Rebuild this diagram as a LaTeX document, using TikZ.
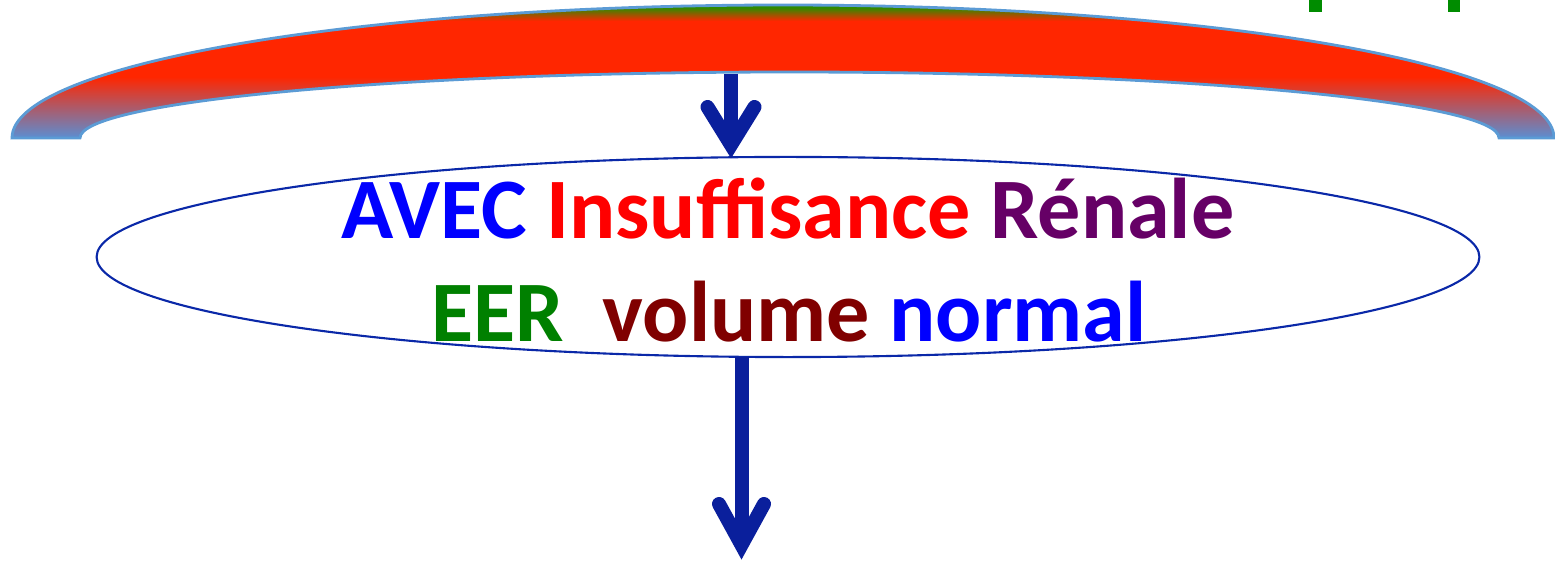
\documentclass[tikz,border=0pt]{standalone}
\usepackage{fontspec}
\setmainfont{Carlito}
\usetikzlibrary{shapes.geometric,calc}
\definecolor{arcred}{HTML}{FF2600}
\definecolor{arcblue}{HTML}{5B8ED2}
\definecolor{arcgreen}{HTML}{2E8B00}
\definecolor{arcedge}{HTML}{5B9BD5}
\definecolor{arrowblue}{HTML}{0A1F9C}
\definecolor{ellblue}{HTML}{0A28A8}
\definecolor{tblue}{HTML}{0000FF}
\definecolor{tred}{HTML}{FF0000}
\definecolor{tpurple}{HTML}{660066}
\definecolor{tgreen}{HTML}{008000}
\definecolor{tbrown}{HTML}{800000}
\definecolor{fraggreen}{HTML}{008C00}
\pgfdeclareverticalshading{arcshade}{100bp}{color(0bp)=(arcblue); color(25bp)=(arcblue); color(48bp)=(arcred); color(69bp)=(arcred); color(74bp)=(arcgreen); color(100bp)=(arcgreen)}
\begin{document}
\begin{tikzpicture}[x=0.01cm,y=-0.01cm,
  shaftline/.style={draw=arrowblue, line width=0.14cm, line cap=butt},
  barbline/.style={draw=arrowblue, line width=0.14cm, line cap=round, line join=miter},
  ovalbox/.style={ellipse, draw=ellblue, line width=0.6pt, inner sep=0pt, minimum width=13.82cm, minimum height=2cm},
  labeltext/.style={font=\fontsize{24.5}{29}\selectfont\bfseries, inner sep=0pt, anchor=base}]
\useasboundingbox (0,0) rectangle (1555,561);
% top arc band
\path[shading=arcshade, draw=arcedge, line width=0.8pt]
  (12,138) arc[start angle=180, end angle=360, x radius=771, y radius=133]
  -- (1499,138) arc[start angle=0, end angle=-180, x radius=709.5, y radius=66] -- cycle;
% cut-off green fragments at the top right
\fill[fraggreen] (1309,0) rectangle (1322,12);
\fill[fraggreen] (1448,0) rectangle (1460,12);
% ellipse
\node[ovalbox] (ell) at (788,257) {};
\node[labeltext] (l1) at (788,239) {\textcolor{tblue}{AVEC} \textcolor{tred}{Insuffisance} \textcolor{tpurple}{Rénale}};
\node[labeltext] (l2) at (789,341) {\textcolor{tgreen}{EER}\ \ \textcolor{tbrown}{volume} \textcolor{tblue}{normal}};
% arrow 1
\coordinate (a1s) at (731,74);
\coordinate (a1v) at (731,145);
\coordinate (a1l) at (707.5,107);
\coordinate (a1r) at (754.5,107);
\draw[shaftline] (a1s) -- (a1v);
\draw[barbline] (a1l) -- (a1v) -- (a1r);
% arrow 2
\coordinate (a2s) at (741.5,357);
\coordinate (a2v) at (741.5,545);
\coordinate (a2l) at (719,504);
\coordinate (a2r) at (764,504);
\draw[shaftline] (a2s) -- (a2v);
\draw[barbline] (a2l) -- (a2v) -- (a2r);
\end{tikzpicture}
\end{document}
